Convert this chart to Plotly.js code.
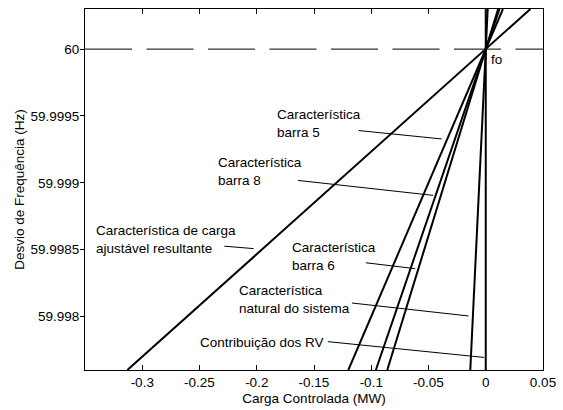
<!DOCTYPE html>
<html>
<head>
<meta charset="utf-8">
<script src="https://cdn.plot.ly/plotly-3.0.1.min.js"></script>
<style>
  html, body { margin: 0; padding: 0; background: #fff; }
  #chart { width: 563px; height: 410px; }
</style>
</head>
<body>
<div id="chart"></div>
<script>
// Frequências (Hz) em que cada característica é traçada: base do gráfico, fo e topo
const frequencias = [59.9976, 60, 60.0003];
const frequenciaNominal = 60;

// Carga controlada (MW) de cada característica nessas frequências
const cargaResultante = [-0.313, 0, 0.039];
const cargaBarra5     = [-0.120, 0, 0.015];
const cargaBarra8     = [-0.096, 0, 0.012];
const cargaBarra6     = [-0.086, 0, 0.0108];
const cargaNatural    = [-0.0135, 0, 0.0017];
const cargaRV         = [0, 0, 0];

// Eixos
const xLimites = [-0.35, 0.05];
const yLimites = [59.9976, 60.0003];
const xTickVals = [-0.3, -0.25, -0.2, -0.15, -0.1, -0.05, 0, 0.05];
const xTickText = ['-0.3', '-0.25', '-0.2', '-0.15', '-0.1', '-0.05', '0', '0.05'];
const yTickVals = [59.998, 59.9985, 59.999, 59.9995, 60];
const yTickText = ['59.998', '59.9985', '59.999', '59.9995', '60'];

// Rótulos: texto, posição do texto e linha indicadora (início -> fim)
const rotulos = [
  { texto: 'Característica<br>barra 5', x: -0.1825, y: 59.999445, anc: 'left',
    de: [-0.1110, 59.999391], ate: [-0.0384, 59.999328] },
  { texto: 'Característica<br>barra 8', x: -0.2341, y: 59.999083, anc: 'left',
    de: [-0.1640, 59.999018], ate: [-0.0460, 59.998906] },
  { texto: 'Característica de carga<br>ajustável resultante', x: -0.3408, y: 59.998577, anc: 'left',
    de: [-0.2283, 59.998526], ate: [-0.2027, 59.998508] },
  { texto: 'Característica<br>barra 6', x: -0.1693, y: 59.998452, anc: 'left',
    de: [-0.1047, 59.998402], ate: [-0.0616, 59.998358] },
  { texto: 'Característica<br>natural do sistema', x: -0.2158, y: 59.998131, anc: 'left',
    de: [-0.1169, 59.998101], ate: [-0.0150, 59.998004] },
  { texto: 'Contribuição dos RV', x: -0.1416, y: 59.997806, anc: 'right',
    de: [-0.1379, 59.997812], ate: [-0.0014, 59.997694] }
];

const fonte = { family: 'Liberation Sans, Arial, sans-serif', size: 13.5, color: '#000' };

function caracteristica(cargas) {
  return {
    x: cargas, y: frequencias, type: 'scatter', mode: 'lines',
    line: { color: '#000', width: 2 }, hoverinfo: 'skip', showlegend: false
  };
}

const traces = [
  {
    x: xLimites, y: [frequenciaNominal, frequenciaNominal], type: 'scatter', mode: 'lines',
    line: { color: '#000', width: 1, dash: '47px,14.5px' }, hoverinfo: 'skip', showlegend: false
  },
  caracteristica(cargaResultante),
  caracteristica(cargaBarra5),
  caracteristica(cargaBarra8),
  caracteristica(cargaBarra6),
  caracteristica(cargaNatural),
  caracteristica(cargaRV)
];

const annotations = rotulos.map(r => ({
  x: r.x, y: r.y, xref: 'x', yref: 'y', text: r.texto, showarrow: false,
  xanchor: r.anc, yanchor: 'middle', align: 'left', font: fonte,
  borderpad: 0, borderwidth: 0
}));
annotations.push({
  x: 0.0045, y: 59.999925, xref: 'x', yref: 'y', text: 'fo', showarrow: false,
  xanchor: 'left', yanchor: 'middle', font: fonte, borderpad: 0, borderwidth: 0
});

const shapes = rotulos.map(r => ({
  type: 'line', xref: 'x', yref: 'y',
  x0: r.de[0], y0: r.de[1], x1: r.ate[0], y1: r.ate[1],
  line: { color: '#000', width: 1 }
}));

const layout = {
  width: 563, height: 410,
  margin: { l: 85, r: 20, t: 9, b: 40, pad: 0 },
  paper_bgcolor: '#fff', plot_bgcolor: '#fff',
  font: fonte,
  showlegend: false,
  xaxis: {
    range: xLimites, tickvals: xTickVals, ticktext: xTickText,
    ticks: 'inside', ticklen: 5, tickcolor: '#000', tickwidth: 1,
    showline: true, linecolor: '#000', linewidth: 1, mirror: 'ticks',
    showgrid: false, zeroline: false, tickfont: fonte,
    title: { text: 'Carga Controlada (MW)', font: fonte, standoff: 4 }
  },
  yaxis: {
    range: yLimites, tickvals: yTickVals, ticktext: yTickText,
    ticks: 'outside', ticklen: 4, tickcolor: '#000', tickwidth: 1,
    ticklabelstandoff: -2,
    showline: true, linecolor: '#000', linewidth: 1, mirror: true,
    showgrid: false, zeroline: false, tickfont: fonte,
    title: { text: 'Desvio de Frequência (Hz)', font: fonte, standoff: 2 }
  },
  yaxis2: {
    overlaying: 'y', side: 'right', range: yLimites, tickvals: yTickVals,
    ticks: 'inside', ticklen: 5, tickcolor: '#000', tickwidth: 1,
    showticklabels: false, showline: false, showgrid: false, zeroline: false
  },
  annotations: annotations,
  shapes: shapes
};

Plotly.newPlot('chart', traces, layout, { staticPlot: true, displayModeBar: false });
</script>
</body>
</html>
